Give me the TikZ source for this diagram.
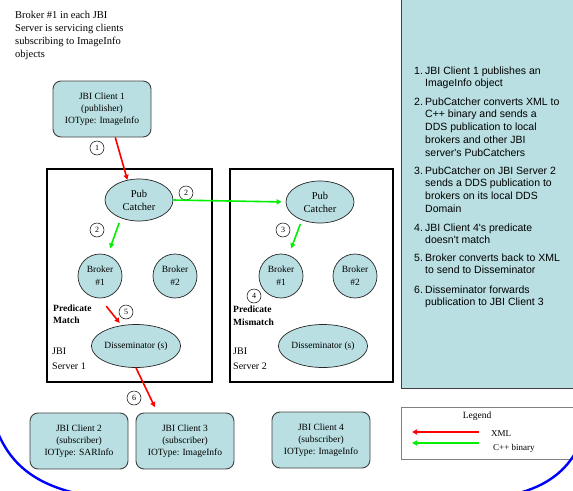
\documentclass[tikz,border=0pt]{standalone}
\usepackage{fontspec}
\setmainfont{Liberation Serif}
\newfontfamily\panelfont{Liberation Sans}
\usetikzlibrary{shapes.geometric,arrows.meta}
\definecolor{paleblue}{RGB}{185,223,226}
\definecolor{xmlred}{RGB}{255,0,0}
\definecolor{cppgreen}{RGB}{0,240,0}
\definecolor{edgegray}{RGB}{64,64,64}
\newcommand{\stepbody}[2]{\makebox[11pt][l]{#1}\begin{tabular}[t]{@{}l@{}}#2\end{tabular}}

\begin{document}
\begin{tikzpicture}[x=1pt,y=-1pt,
  client/.style={draw=edgegray,fill=paleblue,line width=0.9pt,rounded corners=8pt,
    minimum width=98pt,minimum height=56pt,align=center,font=\fontsize{9.5}{12}\selectfont},
  server/.style={draw=black,line width=1.6pt,minimum height=213pt,inner sep=0pt},
  catcher/.style={ellipse,draw=black!85,fill=paleblue,line width=0.7pt,minimum width=68pt,
    minimum height=42pt,inner sep=0pt,align=center,font=\fontsize{10.5}{13}\selectfont},
  broker/.style={circle,draw=black!85,fill=paleblue,line width=0.7pt,minimum size=44pt,
    inner sep=0pt,align=center,font=\fontsize{9.5}{13}\selectfont},
  dissem/.style={ellipse,draw=black!85,fill=paleblue,line width=0.7pt,minimum width=84pt,
    minimum height=43pt,inner sep=0pt,font=\fontsize{9.5}{12}\selectfont},
  num/.style={circle,draw,fill=white,line width=0.5pt,minimum size=14pt,inner sep=0pt,
    font=\fontsize{8}{8}\selectfont},
  note/.style={align=left,inner sep=0pt,anchor=north west},
  stepitem/.style={inner sep=0pt,anchor=north west,font=\panelfont\fontsize{10.5}{12.75}\selectfont},
  xml/.style={draw=xmlred,line width=1.6pt,-{Triangle[length=5pt,width=5pt]}},
  cpp/.style={draw=cppgreen,line width=1.6pt,-{Triangle[length=5pt,width=5pt]}}]
  \useasboundingbox (0,0) rectangle (573,490);
  \clip (0,0) rectangle (573,490);

  % steps panel
  \draw[fill=paleblue,draw=edgegray,line width=0.8pt] (401,-5) rectangle (580,388);
  \node[stepitem] (st1) at (414,65) {\stepbody{1.}{JBI Client 1 publishes an\\ImageInfo object}};
  \node[stepitem] (st2) at (414,96) {\stepbody{2.}{PubCatcher converts XML to\\C++ binary and sends a\\DDS publication to local\\brokers and other JBI\\server's PubCatchers}};
  \node[stepitem] (st3) at (414,165) {\stepbody{3.}{PubCatcher on JBI Server 2\\sends a DDS publication to\\brokers on its local DDS\\Domain}};
  \node[stepitem] (st4) at (414,222) {\stepbody{4.}{JBI Client 4's predicate\\doesn't match}};
  \node[stepitem] (st5) at (414,252) {\stepbody{5.}{Broker converts back to XML\\to send to Disseminator}};
  \node[stepitem] (st6) at (414,284) {\stepbody{6.}{Disseminator forwards\\publication to JBI Client 3}};

  \node[note,font=\fontsize{10.5}{13}\selectfont] (intro) at (15,11)
    {Broker \#1 in each JBI\\Server is servicing clients\\subscribing to ImageInfo\\objects};

  % servers
  \node[server,minimum width=165pt] (s1) at (129.5,275.5) {};
  \node[server,minimum width=163pt] (s2) at (311.5,275.5) {};

  \node[client] (c1) at (102,109) {JBI Client 1\\(publisher)\\IOType: ImageInfo};
  \node[client] (c2) at (79,441) {JBI Client 2\\(subscriber)\\IOType: SARInfo};
  \node[client] (c3) at (185,441) {JBI Client 3\\(subscriber)\\IOType: ImageInfo};
  \node[client] (c4) at (321,440) {JBI Client 4\\(subscriber)\\IOType: ImageInfo};

  \node[catcher] (pc1) at (139,200) {Pub\\Catcher};
  \node[catcher] (pc2) at (320,202) {Pub\\Catcher};
  \node[broker] (b11) at (100,276) {Broker\\\#1};
  \node[broker] (b12) at (175,276) {Broker\\\#2};
  \node[broker] (b21) at (281,276) {Broker\\\#1};
  \node[broker] (b22) at (355,276) {Broker\\\#2};
  \node[dissem] (d1) at (136,346) {Disseminator (s)};
  \node[dissem] (d2) at (323,346) {Disseminator (s)};

  \node[note,font=\bfseries\fontsize{9.5}{12}\selectfont] (pm1) at (53,305) {Predicate\\Match};
  \node[note,font=\bfseries\fontsize{9.5}{12.5}\selectfont] (pm2) at (233,306) {Predicate\\Mismatch};
  \node[note,font=\fontsize{10}{15}\selectfont] (s1lbl) at (52,348) {JBI\\Server 1};
  \node[note,font=\fontsize{10}{15}\selectfont] (s2lbl) at (233,348) {JBI\\Server 2};

  % step numbers
  \node[num] (n1) at (97,148) {1};
  \node[num] (n2a) at (186,193) {2};
  \node[num] (n2b) at (97,230) {2};
  \node[num] (n3) at (283,230) {3};
  \node[num] (n4) at (254,296) {4};
  \node[num] (n5) at (126,312) {5};
  \node[num] (n6) at (134,398) {6};

  \draw[xml] (c1.-65) -- (pc1.120);
  \draw[cpp,shorten >=4pt] (pc1.east) -- (pc2.west);
  \draw[cpp,shorten <=5pt,shorten >=7pt] (pc1.-135) -- (b11.70);
  \draw[cpp,shorten <=4pt,shorten >=7pt] (pc2.-135) -- (b21.70);
  \draw[xml,shorten <=10pt,shorten >=3pt] (b11.south) -- (d1.125);
  \draw[xml,shorten >=6pt] (d1.south) -- (c3.134);

  % legend
  \node[draw=gray,line width=0.9pt,minimum width=175pt,minimum height=52pt] (lg) at (489,433) {};
  \node[font=\fontsize{9.5}{11}\selectfont] (lgtitle) at (477,416) {Legend};
  \coordinate (xmlA) at (479,432);
  \coordinate (xmlB) at (412,432);
  \coordinate (cppA) at (479,443);
  \coordinate (cppB) at (412,443);
  \draw[xml] (xmlA) -- (xmlB);
  \draw[cpp] (cppA) -- (cppB);
  \node[anchor=west,inner sep=0pt,font=\fontsize{9}{11}\selectfont] (xmltxt) at (491,434) {XML};
  \node[anchor=west,inner sep=0pt,font=\fontsize{9}{11}\selectfont] (cpptxt) at (493,448) {C++ binary};

  % blue curve
  \draw[blue,line width=2.4pt] (-4,428) .. controls (8,460) and (30,482) .. (75,493);
  \draw[blue,line width=2.4pt] (577,450) .. controls (566,470) and (548,486) .. (515,494);
\end{tikzpicture}
\end{document}
